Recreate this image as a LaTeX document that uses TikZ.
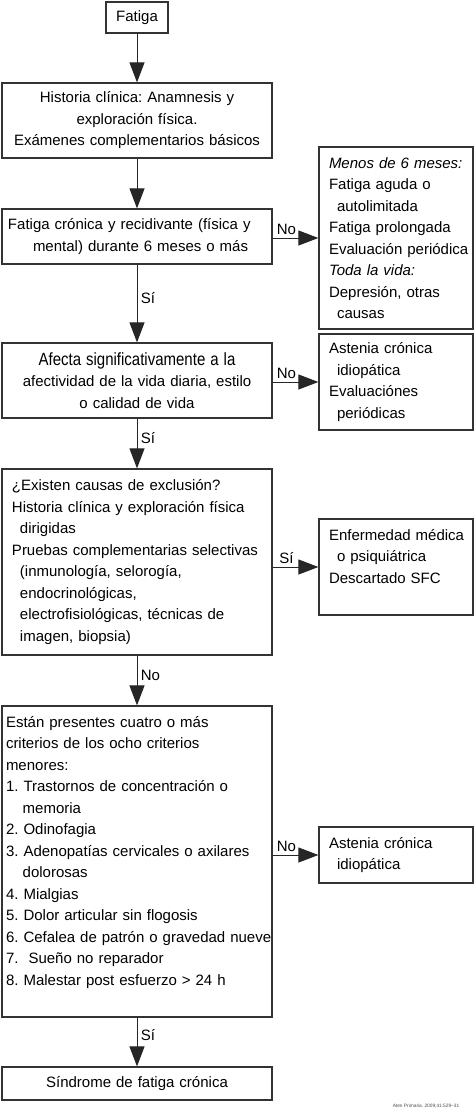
\documentclass[tikz,border=0pt]{standalone}
\usepackage{fontspec}
\setmainfont{Liberation Sans}
\usepackage{graphicx}
\usetikzlibrary{arrows.meta}
\begin{document}
\frenchspacing
\begin{tikzpicture}[x=1pt,y=-1pt,font=\fontsize{15pt}{21.5pt}\selectfont,
  caja/.style={draw=black!80,line width=1.2pt,inner sep=0pt},
  izq/.style={caja,minimum width=270pt,align=left},
  ctr/.style={caja,minimum width=270pt,align=center,text width=262pt},
  lado/.style={caja,minimum width=154pt,align=left,text width=134pt},
  flecha/.style={draw=black!85,line width=1pt,-{Triangle[length=20pt,width=15pt]}}]
\useasboundingbox (0,0) rectangle (474,1113);
\node[caja,minimum width=62pt,minimum height=31pt] (fatiga) at (137,17.5) {Fatiga};
\node[ctr,minimum height=75pt] (historia) at (137,120.5) {Historia clínica: Anamnesis y\\exploración física.\\Exámenes complementarios básicos};
\node[izq,text width=258pt,minimum height=55pt] (cronica) at (137,236.5) {Fatiga crónica y recidivante (física y\\\hspace*{25pt}mental) durante 6 meses o más};
\node[ctr,minimum height=75pt] (afecta) at (137,380.5) {\scalebox{1}[1.18]{Afecta significativamente a la}\\afectividad de la vida diaria, estilo\\o calidad de vida};
\node[izq,text width=250pt,minimum height=186pt] (exclusion) at (137,562) {¿Existen causas de exclusión?\\Historia clínica y exploración física\\\hspace*{8pt}dirigidas\\Pruebas complementarias selectivas\\\hspace*{8pt}(inmunología, selorogía,\\\hspace*{8pt}endocrinológicas,\\\hspace*{8pt}electrofisiológicas, técnicas de\\\hspace*{8pt}imagen, biopsia)};
\node[izq,text width=262pt,minimum height=311pt] (criterios) at (137,861.5) {Están presentes cuatro o más\\criterios de los ocho criterios\\menores:\\1. Trastornos de concentración o\\\hspace*{16.7pt}memoria\\2. Odinofagia\\3. Adenopatías cervicales o axilares\\\hspace*{16.7pt}dolorosas\\4. Mialgias\\5. Dolor articular sin flogosis\\\mbox{6. Cefalea de patrón o gravedad nueve}\\7.~ Sueño no reparador\\8. Malestar post esfuerzo > 24 h\\\mbox{}};
\node[ctr,minimum height=33pt] (sfc) at (137,1083.5) {Síndrome de fatiga crónica};
\node[lado,minimum height=182pt] (menos) at (396,238) {\textit{Menos de 6 meses:}\\Fatiga aguda o\\\hspace*{8pt}autolimitada\\Fatiga prolongada\\\mbox{Evaluación periódica}\\\textit{Toda la vida:}\\Depresión, otras\\\hspace*{8pt}causas};
\node[lado,minimum height=96pt] (astenia) at (396,382) {Astenia crónica\\\hspace*{8pt}idiopática\\Evaluaciónes\\\hspace*{8pt}periódicas};
\node[lado,minimum height=96pt] (medica) at (396,567) {\mbox{Enfermedad médica}\\\hspace*{8pt}o psiquiátrica\\Descartado SFC\\\mbox{}};
\node[lado,minimum height=56pt] (idiopatica) at (396,855) {Astenia crónica\\\hspace*{8pt}idiopática};
\node[font=\fontsize{4.8pt}{5pt}\selectfont,text=black!70] (fuente) at (426,1106) {Aten Primaria. 2009;41:529--31};
\draw[flecha] (fatiga) -- (historia);
\draw[flecha] (historia) -- (cronica);
\draw[flecha] (cronica) -- node[right,pos=.43] {Sí} (afecta);
\draw[flecha] (afecta) -- node[right,pos=.39] {Sí} (exclusion);
\draw[flecha] (exclusion) -- node[right,pos=.39] {No} (criterios);
\draw[flecha] (criterios) -- node[right,pos=.36] {Sí} (sfc);
\draw[flecha] (menos.west -| cronica.east) -- node[above,pos=.3] {No} (menos.west);
\draw[flecha] (astenia.west -| afecta.east) -- node[above,pos=.3] {No} (astenia.west);
\draw[flecha] (medica.west -| exclusion.east) -- node[above,pos=.3] {Sí} (medica.west);
\draw[flecha] (idiopatica.west -| criterios.east) -- node[above,pos=.3] {No} (idiopatica.west);
\end{tikzpicture}
\end{document}
